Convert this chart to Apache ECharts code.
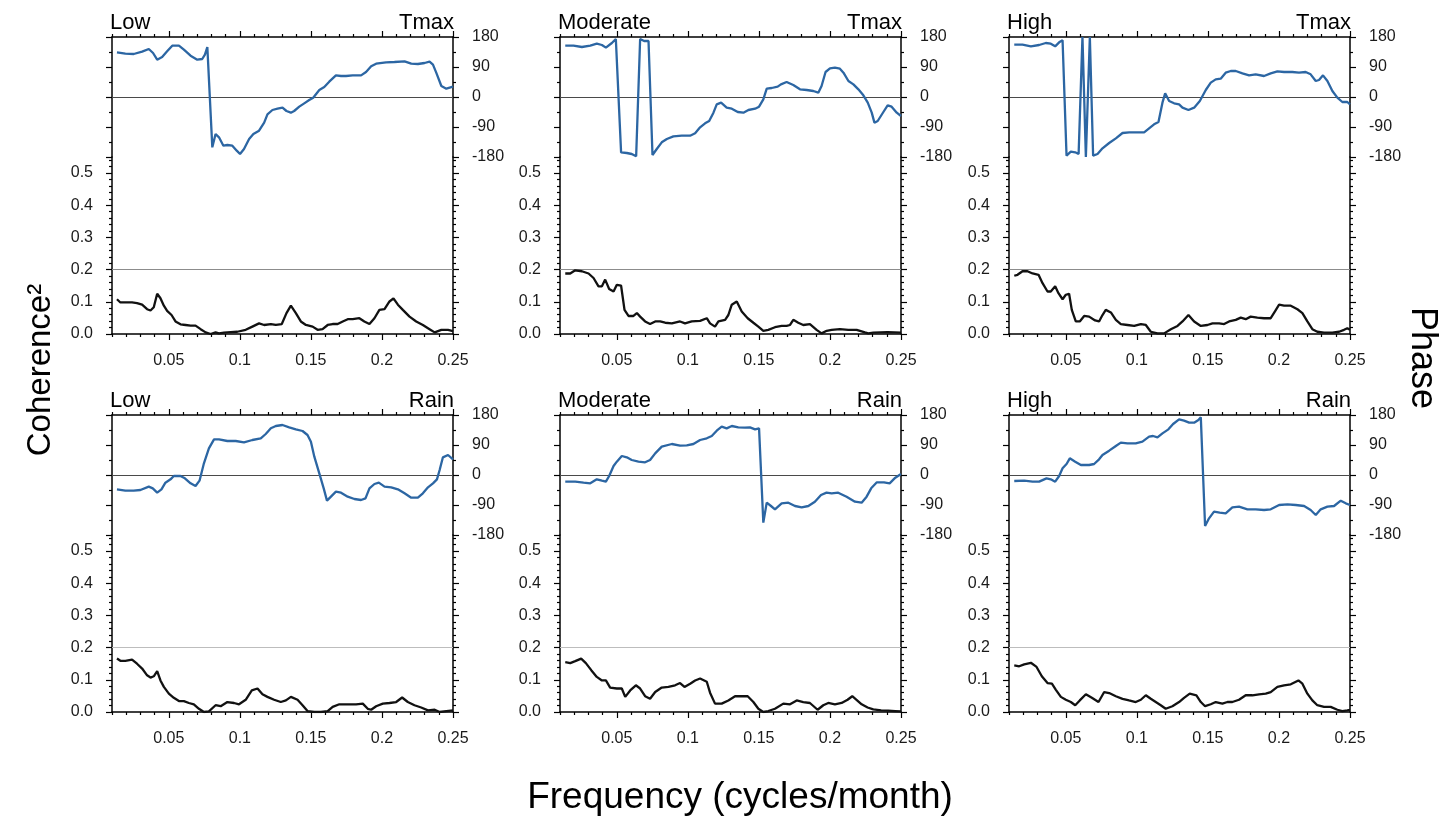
<!DOCTYPE html>
<html><head><meta charset="utf-8">
<script src="https://cdn.jsdelivr.net/npm/echarts@6/dist/echarts.min.js"></script>
<style>html,body{margin:0;padding:0;background:#fff}#chart{width:1446px;height:823px}</style>
</head><body><div id="chart"></div>
<script>
// ---------- data ----------
const freqTicks = [0.05, 0.1, 0.15, 0.2, 0.25];
const freqMinorTicks = [0.01,0.02,0.03,0.04,0.06,0.07,0.08,0.09,0.11,0.12,0.13,0.14,0.16,0.17,0.18,0.19,0.21,0.22,0.23,0.24];
const cohTicks = [0, 0.1, 0.2, 0.3, 0.4, 0.5];
const cohMinorTicks = [0.02,0.04,0.06,0.08,0.12,0.14,0.16,0.18,0.22,0.24,0.26,0.28,0.32,0.34,0.36,0.38,0.42,0.44,0.46,0.48,0.52,0.54];
const phaseTicks = [-180, -90, 0, 90, 180];
const phaseMinorTicks = [-135, -45, 45, 135];

const lowTmaxPhase = [[0.0135,134],[0.0194,130],[0.0253,129],[0.0312,136],[0.0359,144],[0.0389,132],[0.0418,112],[0.0453,120],[0.0488,137],[0.0524,154],[0.0571,154],[0.0606,142],[0.0653,124],[0.07,112],[0.0735,114],[0.0754,127],[0.0771,150],[0.0806,-151],[0.0829,-111],[0.0853,-121],[0.0884,-146],[0.0912,-144],[0.0947,-146],[0.0978,-161],[0.1001,-171],[0.1029,-156],[0.1065,-126],[0.1095,-111],[0.1135,-101],[0.1171,-77],[0.1194,-52],[0.1229,-39],[0.1265,-35],[0.13,-32],[0.1328,-42],[0.1359,-47],[0.1382,-42],[0.1418,-29],[0.1453,-19],[0.1488,-9],[0.1516,-2],[0.1559,21],[0.1594,30],[0.1629,46],[0.1676,65],[0.1712,63],[0.1747,63],[0.1794,65],[0.1853,65],[0.1888,75],[0.1924,92],[0.1959,100],[0.2029,104],[0.2088,105],[0.2159,107],[0.2206,100],[0.2253,99],[0.23,102],[0.2335,106],[0.2359,97],[0.2382,73],[0.2418,33],[0.2453,25],[0.25,31]];
const lowTmaxCoh = [[0.0135,0.108],[0.0159,0.098],[0.0194,0.098],[0.0241,0.098],[0.0276,0.096],[0.0312,0.091],[0.0347,0.077],[0.0371,0.073],[0.0394,0.083],[0.0418,0.125],[0.0441,0.111],[0.0465,0.088],[0.0488,0.072],[0.0519,0.059],[0.0547,0.039],[0.0582,0.030],[0.0618,0.028],[0.0653,0.026],[0.0688,0.026],[0.0724,0.015],[0.0759,0.005],[0.0794,0.0],[0.0829,0.005],[0.0853,0.002],[0.0888,0.004],[0.0935,0.006],[0.0982,0.007],[0.1041,0.013],[0.1088,0.023],[0.1135,0.033],[0.1171,0.028],[0.1218,0.031],[0.1253,0.028],[0.1295,0.031],[0.1328,0.065],[0.1359,0.088],[0.1394,0.065],[0.1429,0.039],[0.1465,0.028],[0.1512,0.023],[0.1547,0.013],[0.1582,0.015],[0.1618,0.028],[0.1653,0.031],[0.1688,0.031],[0.1724,0.039],[0.1759,0.046],[0.1794,0.046],[0.1841,0.049],[0.1876,0.039],[0.1912,0.031],[0.1947,0.049],[0.1982,0.075],[0.2018,0.077],[0.2053,0.101],[0.2081,0.111],[0.2112,0.091],[0.2147,0.075],[0.2194,0.054],[0.2241,0.039],[0.2288,0.028],[0.2335,0.015],[0.2371,0.005],[0.2418,0.013],[0.2465,0.013],[0.25,0.009]];

const modTmaxPhase = [[0.0137,154],[0.0195,154],[0.0254,150],[0.0313,154],[0.0359,160],[0.0395,156],[0.0423,148],[0.0465,162],[0.0493,174],[0.053,-166],[0.057,-168],[0.0605,-171],[0.0636,-178],[0.0664,174],[0.0692,168],[0.0723,168],[0.0751,-174],[0.0781,-156],[0.0816,-136],[0.0852,-126],[0.0898,-118],[0.0957,-116],[0.1016,-116],[0.1051,-109],[0.1086,-91],[0.1121,-79],[0.115,-72],[0.118,-47],[0.1203,-22],[0.1234,-17],[0.1273,-32],[0.1309,-35],[0.1351,-45],[0.1391,-47],[0.1426,-39],[0.1473,-35],[0.1501,-29],[0.1531,-7],[0.1555,25],[0.159,27],[0.1632,31],[0.1655,38],[0.1695,45],[0.1742,36],[0.1789,23],[0.1836,21],[0.1883,18],[0.1918,13],[0.1941,33],[0.1969,75],[0.2,86],[0.2035,88],[0.207,85],[0.2095,73],[0.213,48],[0.2165,38],[0.22,23],[0.2235,5],[0.2266,-17],[0.2294,-47],[0.2313,-77],[0.2336,-72],[0.2376,-45],[0.2406,-25],[0.2434,-29],[0.247,-47],[0.25,-57]];
const modTmaxCoh = [[0.0137,0.188],[0.0172,0.188],[0.0207,0.198],[0.0254,0.195],[0.0301,0.188],[0.0336,0.174],[0.0371,0.148],[0.0395,0.148],[0.0418,0.169],[0.0446,0.140],[0.0477,0.132],[0.05,0.153],[0.053,0.150],[0.0554,0.075],[0.0582,0.056],[0.0617,0.056],[0.0641,0.065],[0.0664,0.054],[0.0699,0.039],[0.0734,0.031],[0.077,0.039],[0.0805,0.039],[0.084,0.035],[0.0887,0.033],[0.0945,0.039],[0.098,0.033],[0.1027,0.039],[0.1086,0.041],[0.1133,0.049],[0.1156,0.033],[0.1191,0.023],[0.1215,0.039],[0.1262,0.044],[0.1285,0.059],[0.1309,0.091],[0.1344,0.101],[0.1379,0.070],[0.1421,0.049],[0.1461,0.035],[0.1496,0.023],[0.1531,0.010],[0.1566,0.013],[0.1613,0.021],[0.166,0.025],[0.1695,0.025],[0.1719,0.028],[0.1742,0.044],[0.1777,0.035],[0.1812,0.028],[0.1859,0.031],[0.1906,0.013],[0.1941,0.002],[0.1977,0.010],[0.2012,0.013],[0.207,0.015],[0.2129,0.013],[0.2188,0.013],[0.2246,0.005],[0.227,0.002],[0.2305,0.004],[0.2355,0.005],[0.2405,0.006],[0.2455,0.005],[0.25,0.004]];

const highTmaxPhase = [[0.0137,157],[0.0195,157],[0.0254,152],[0.0312,156],[0.0359,162],[0.0394,160],[0.0425,152],[0.0453,164],[0.0477,170],[0.0505,-176],[0.0535,-164],[0.0566,-166],[0.059,-171],[0.0617,180],[0.0641,-180],[0.0669,180],[0.0692,-176],[0.0723,-171],[0.0758,-154],[0.0805,-138],[0.0852,-124],[0.0899,-108],[0.0946,-106],[0.1004,-106],[0.1051,-106],[0.1086,-94],[0.1121,-82],[0.1152,-75],[0.118,-17],[0.1199,11],[0.1227,-12],[0.1262,-19],[0.1297,-22],[0.1321,-32],[0.1363,-39],[0.1403,-32],[0.1443,-12],[0.1485,21],[0.152,43],[0.1555,53],[0.159,55],[0.1625,73],[0.1661,78],[0.1696,78],[0.1743,71],[0.179,65],[0.1836,68],[0.1895,63],[0.1942,71],[0.1989,77],[0.2036,75],[0.2094,75],[0.2141,73],[0.2188,75],[0.2223,68],[0.2259,48],[0.2282,51],[0.231,65],[0.2341,48],[0.2376,18],[0.2411,-2],[0.2446,-15],[0.2481,-15],[0.25,-22]];
const highTmaxCoh = [[0.0137,0.181],[0.016,0.184],[0.0195,0.195],[0.023,0.195],[0.0266,0.188],[0.0308,0.184],[0.0336,0.158],[0.0371,0.132],[0.0394,0.132],[0.0425,0.148],[0.0448,0.127],[0.0477,0.108],[0.05,0.122],[0.0523,0.125],[0.0542,0.075],[0.057,0.039],[0.0598,0.039],[0.0629,0.056],[0.0664,0.054],[0.0706,0.042],[0.0734,0.039],[0.0758,0.059],[0.0781,0.075],[0.0817,0.067],[0.0852,0.044],[0.0887,0.031],[0.0934,0.028],[0.0981,0.025],[0.1028,0.031],[0.1063,0.028],[0.1098,0.007],[0.1145,0.002],[0.1192,0.002],[0.1239,0.015],[0.1286,0.025],[0.1321,0.039],[0.1363,0.059],[0.1403,0.039],[0.145,0.025],[0.1497,0.028],[0.1532,0.033],[0.1579,0.033],[0.1614,0.031],[0.1649,0.039],[0.1696,0.044],[0.1731,0.051],[0.1766,0.046],[0.1801,0.054],[0.1848,0.051],[0.1895,0.049],[0.1942,0.049],[0.1972,0.070],[0.2001,0.091],[0.2036,0.088],[0.2083,0.088],[0.213,0.077],[0.2165,0.065],[0.22,0.039],[0.2235,0.015],[0.227,0.007],[0.2317,0.004],[0.2376,0.004],[0.2423,0.007],[0.2458,0.013],[0.2481,0.018],[0.25,0.013]];

const lowRainPhase = [[0.0135,-43],[0.0194,-47],[0.0253,-47],[0.03,-45],[0.0359,-35],[0.0387,-40],[0.0418,-53],[0.0448,-43],[0.0476,-23],[0.0512,-13],[0.0535,-3],[0.0582,-3],[0.0613,-10],[0.0653,-25],[0.0688,-33],[0.0716,-17],[0.0747,35],[0.0782,80],[0.0818,107],[0.0853,107],[0.0912,102],[0.0971,102],[0.1029,98],[0.1088,105],[0.1147,110],[0.1182,123],[0.1218,140],[0.1253,147],[0.13,150],[0.1347,143],[0.1394,137],[0.1441,132],[0.1476,120],[0.15,100],[0.1524,55],[0.1559,5],[0.159,-40],[0.1613,-77],[0.1641,-65],[0.1676,-50],[0.1712,-53],[0.1759,-65],[0.1806,-72],[0.1853,-75],[0.1884,-70],[0.1912,-40],[0.1947,-27],[0.1978,-23],[0.2018,-35],[0.2065,-37],[0.2112,-43],[0.2159,-55],[0.2206,-68],[0.2253,-68],[0.2288,-55],[0.2324,-37],[0.2359,-25],[0.2387,-13],[0.2406,15],[0.2429,53],[0.2465,60],[0.25,47]];
const lowRainCoh = [[0.0135,0.166],[0.0159,0.159],[0.0194,0.159],[0.0241,0.163],[0.0276,0.150],[0.0312,0.135],[0.0347,0.114],[0.0371,0.107],[0.0394,0.111],[0.0418,0.127],[0.0441,0.098],[0.0465,0.078],[0.05,0.057],[0.0535,0.044],[0.0571,0.034],[0.0606,0.034],[0.0641,0.028],[0.0676,0.024],[0.0712,0.010],[0.0747,0.0],[0.0782,0.002],[0.0829,0.021],[0.0865,0.018],[0.0912,0.031],[0.0959,0.028],[0.0994,0.024],[0.1041,0.038],[0.1084,0.067],[0.1124,0.073],[0.1159,0.055],[0.1194,0.047],[0.1241,0.038],[0.1288,0.031],[0.1324,0.036],[0.1359,0.047],[0.1406,0.038],[0.1441,0.021],[0.1476,0.003],[0.1524,0.0],[0.1571,0.0],[0.1618,0.003],[0.1653,0.016],[0.17,0.024],[0.1759,0.024],[0.1818,0.024],[0.1865,0.026],[0.19,0.010],[0.1924,0.007],[0.1959,0.018],[0.2006,0.026],[0.2053,0.028],[0.21,0.031],[0.2142,0.045],[0.2182,0.031],[0.2229,0.021],[0.2276,0.014],[0.2324,0.005],[0.2371,0.007],[0.2406,0.0],[0.2453,0.003],[0.25,0.005]];

const modRainPhase = [[0.0137,-20],[0.0207,-20],[0.0266,-23],[0.0313,-25],[0.0359,-13],[0.0395,-17],[0.0423,-20],[0.0446,-3],[0.0477,27],[0.05,40],[0.0535,57],[0.057,53],[0.0605,45],[0.0652,40],[0.0699,38],[0.0734,45],[0.077,65],[0.0816,85],[0.0887,93],[0.0945,88],[0.0992,89],[0.1039,93],[0.1086,105],[0.1133,110],[0.1168,117],[0.1203,133],[0.1238,145],[0.1273,140],[0.1309,147],[0.1355,143],[0.1402,142],[0.1437,143],[0.1473,137],[0.1501,140],[0.1531,-143],[0.1555,-83],[0.1585,-93],[0.1613,-103],[0.166,-85],[0.1707,-83],[0.1754,-93],[0.1801,-97],[0.1848,-93],[0.1894,-80],[0.1937,-60],[0.1976,-53],[0.2012,-55],[0.2058,-53],[0.2117,-65],[0.2176,-80],[0.2223,-83],[0.2258,-65],[0.229,-40],[0.233,-22],[0.238,-22],[0.242,-25],[0.246,-8],[0.25,3]];
const modRainCoh = [[0.0137,0.155],[0.0172,0.152],[0.0207,0.158],[0.0249,0.166],[0.0282,0.152],[0.032,0.130],[0.0359,0.109],[0.0395,0.098],[0.0423,0.098],[0.0453,0.076],[0.05,0.073],[0.0535,0.073],[0.0559,0.047],[0.0594,0.067],[0.0634,0.083],[0.0664,0.073],[0.0699,0.049],[0.0734,0.041],[0.077,0.062],[0.0816,0.076],[0.0863,0.078],[0.091,0.083],[0.0945,0.090],[0.0976,0.078],[0.1016,0.088],[0.1051,0.098],[0.1086,0.104],[0.1133,0.094],[0.1156,0.060],[0.1191,0.026],[0.1238,0.026],[0.1285,0.036],[0.1332,0.049],[0.1379,0.049],[0.1421,0.049],[0.1461,0.031],[0.1496,0.010],[0.1531,0.0],[0.1566,0.003],[0.1613,0.010],[0.1672,0.026],[0.1719,0.024],[0.1766,0.036],[0.1812,0.031],[0.1859,0.028],[0.1913,0.007],[0.1953,0.021],[0.1988,0.028],[0.2035,0.024],[0.2082,0.028],[0.2124,0.038],[0.2157,0.049],[0.2187,0.038],[0.2223,0.024],[0.2265,0.014],[0.2305,0.008],[0.236,0.005],[0.241,0.004],[0.246,0.003],[0.25,0.002]];

const highRainPhase = [[0.0137,-18],[0.0207,-17],[0.0266,-20],[0.0312,-20],[0.0364,-10],[0.0394,-13],[0.0425,-20],[0.0453,-3],[0.0477,20],[0.0505,33],[0.0528,50],[0.0566,40],[0.0606,30],[0.0664,30],[0.0699,33],[0.0734,47],[0.0758,60],[0.0805,73],[0.0852,87],[0.0887,97],[0.0934,95],[0.0992,95],[0.1039,100],[0.1086,115],[0.1114,117],[0.1145,113],[0.118,125],[0.1222,137],[0.1255,153],[0.1297,167],[0.1332,163],[0.1368,157],[0.1403,157],[0.1433,165],[0.145,173],[0.148,-153],[0.1508,-130],[0.1543,-110],[0.1583,-113],[0.1625,-115],[0.1672,-97],[0.1719,-95],[0.1778,-103],[0.1836,-103],[0.1895,-105],[0.1942,-103],[0.2001,-90],[0.206,-88],[0.2118,-90],[0.2177,-93],[0.2223,-105],[0.2259,-120],[0.2294,-103],[0.2341,-95],[0.2388,-93],[0.2435,-77],[0.247,-85],[0.25,-90]];
const highRainCoh = [[0.0137,0.145],[0.0172,0.142],[0.0207,0.148],[0.0254,0.153],[0.0294,0.140],[0.0331,0.111],[0.0371,0.090],[0.0402,0.088],[0.043,0.069],[0.0465,0.047],[0.05,0.038],[0.0535,0.031],[0.0566,0.021],[0.0598,0.036],[0.0641,0.055],[0.0683,0.044],[0.073,0.031],[0.077,0.062],[0.0805,0.059],[0.0852,0.049],[0.0899,0.041],[0.0945,0.036],[0.0992,0.031],[0.1028,0.038],[0.1063,0.052],[0.1098,0.041],[0.1133,0.031],[0.1168,0.021],[0.1203,0.010],[0.125,0.018],[0.1297,0.031],[0.1332,0.044],[0.1372,0.057],[0.1419,0.052],[0.145,0.031],[0.148,0.018],[0.152,0.024],[0.1555,0.031],[0.1602,0.026],[0.1637,0.031],[0.1672,0.031],[0.1719,0.038],[0.1766,0.052],[0.1813,0.052],[0.186,0.055],[0.1907,0.057],[0.1942,0.062],[0.1989,0.078],[0.2036,0.083],[0.2083,0.086],[0.2137,0.098],[0.2165,0.088],[0.22,0.057],[0.2235,0.036],[0.227,0.021],[0.2317,0.016],[0.2364,0.016],[0.2411,0.007],[0.2446,0.003],[0.2481,0.005],[0.25,0.007]];

const panels = [
  {regime: 'Low',      variable: 'Tmax', phase: lowTmaxPhase,  coh: lowTmaxCoh},
  {regime: 'Moderate', variable: 'Tmax', phase: modTmaxPhase,  coh: modTmaxCoh},
  {regime: 'High',     variable: 'Tmax', phase: highTmaxPhase, coh: highTmaxCoh},
  {regime: 'Low',      variable: 'Rain', phase: lowRainPhase,  coh: lowRainCoh},
  {regime: 'Moderate', variable: 'Rain', phase: modRainPhase,  coh: modRainCoh},
  {regime: 'High',     variable: 'Rain', phase: highRainPhase, coh: highRainCoh}
];
const xTitle = 'Frequency (cycles/month)';
const yLeftTitle = 'Coherence\u00B2';
const yRightTitle = 'Phase';

// ---------- layout / style ----------
const FONT = "'Liberation Sans', Arial, Helvetica, sans-serif";
const colLeft = [112, 560, 1009], rowTop = [37, 415];
const W = 341, HP = 120, HC = 177;
const BLUE = '#2c66a3';
const axLine = {color: '#000', width: 1.5};
const tkLine = {color: '#000', width: 1.2};
const labStyle = {fontSize: 16, color: '#1a1a1a', fontFamily: FONT, margin: 19};

function xAx(g, pos, ticks, len, showLine, showLabels) {
  return {
    type: 'value', gridIndex: g, position: pos, min: 0.01, max: 0.25,
    axisLine: {show: showLine, onZero: false, lineStyle: axLine},
    axisTick: {show: true, customValues: ticks, length: len, inside: false, lineStyle: tkLine},
    axisLabel: Object.assign({show: showLabels, customValues: freqTicks,
      formatter: v => String(parseFloat(Number(v).toFixed(2)))}, labStyle),
    splitLine: {show: false}, minorTick: {show: false}
  };
}
function yAx(g, pos, mn, mx, ticks, len, showLine, labels, fmt) {
  return {
    type: 'value', gridIndex: g, position: pos, min: mn, max: mx,
    axisLine: {show: showLine, onZero: false, lineStyle: axLine},
    axisTick: {show: true, customValues: ticks, length: len, inside: false, lineStyle: tkLine},
    axisLabel: Object.assign({show: !!labels, customValues: labels || ticks, formatter: fmt}, labStyle),
    splitLine: {show: false}, minorTick: {show: false}
  };
}

const grid = [], xAxis = [], yAxis = [], series = [], graphic = [];
panels.forEach((p, i) => {
  const r = Math.floor(i / 3), c = i % 3;
  const L = colLeft[c], T = rowTop[r];
  const gP = grid.length; grid.push({left: L, top: T, width: W, height: HP});
  const gC = grid.length; grid.push({left: L, top: T + HP, width: W, height: HC});

  const xP = xAxis.length;
  xAxis.push(xAx(gP, 'top', freqTicks, 6, true, false));
  xAxis.push(xAx(gP, 'top', freqMinorTicks, 3, false, false));
  const xC = xAxis.length;
  xAxis.push(xAx(gC, 'bottom', freqTicks, 6, true, true));
  xAxis.push(xAx(gC, 'bottom', freqMinorTicks, 3, false, false));

  const yP = yAxis.length;
  yAxis.push(yAx(gP, 'right', -180, 180, phaseTicks, 6, true, phaseTicks, v => String(v)));
  yAxis.push(yAx(gP, 'right', -180, 180, phaseMinorTicks, 3, false));
  yAxis.push(yAx(gP, 'left', -180, 180, phaseTicks, 6, true));
  yAxis.push(yAx(gP, 'left', -180, 180, phaseMinorTicks, 3, false));
  const yC = yAxis.length;
  yAxis.push(yAx(gC, 'left', 0, 0.55, cohTicks, 6, true, cohTicks, v => Number(v).toFixed(1)));
  yAxis.push(yAx(gC, 'left', 0, 0.55, cohMinorTicks, 3, false));
  yAxis.push(yAx(gC, 'right', 0, 0.55, cohTicks, 6, true));
  yAxis.push(yAx(gC, 'right', 0, 0.55, cohMinorTicks, 3, false));

  series.push({
    type: 'line', xAxisIndex: xP, yAxisIndex: yP, data: p.phase, symbol: 'none',
    lineStyle: {color: BLUE, width: 2.3}, clip: true, z: 3,
    markLine: {silent: true, symbol: ['none', 'none'], label: {show: false},
      lineStyle: {color: '#4a4a4a', width: 1.2, type: 'solid'}, data: [{yAxis: 0}], z: 2}
  });
  series.push({
    type: 'line', xAxisIndex: xC, yAxisIndex: yC, data: p.coh, symbol: 'none',
    lineStyle: {color: '#111', width: 2.3}, clip: true, z: 3,
    markLine: {silent: true, symbol: ['none', 'none'], label: {show: false},
      lineStyle: {color: p.variable === 'Rain' ? '#bdbdbd' : '#8c8c8c', width: 1.2, type: 'solid'},
      data: [{yAxis: 0.2}], z: 2}
  });

  graphic.push({type: 'text', x: L - 2, y: T - 3,
    style: {text: p.regime, fontSize: 22, fontFamily: FONT, fill: '#000', align: 'left', verticalAlign: 'bottom'}});
  graphic.push({type: 'text', x: L + W + 1, y: T - 3,
    style: {text: p.variable, fontSize: 22, fontFamily: FONT, fill: '#000', align: 'right', verticalAlign: 'bottom'}});
});

graphic.push({type: 'text', x: 41, y: 370, rotation: Math.PI / 2,
  style: {text: yLeftTitle, fontSize: 33, fontFamily: FONT, fill: '#000', align: 'center', verticalAlign: 'middle'}});
graphic.push({type: 'text', x: 1422, y: 358, rotation: -Math.PI / 2,
  style: {text: yRightTitle, fontSize: 36, fontFamily: FONT, fill: '#000', align: 'center', verticalAlign: 'middle'}});
graphic.push({type: 'text', x: 740, y: 798,
  style: {text: xTitle, fontSize: 37, fontFamily: FONT, fill: '#000', align: 'center', verticalAlign: 'middle'}});

const chart = echarts.init(document.getElementById('chart'), null, {renderer: 'canvas'});
chart.setOption({
  animation: false, backgroundColor: '#fff',
  grid, xAxis, yAxis, series, graphic
});
</script></body></html>
